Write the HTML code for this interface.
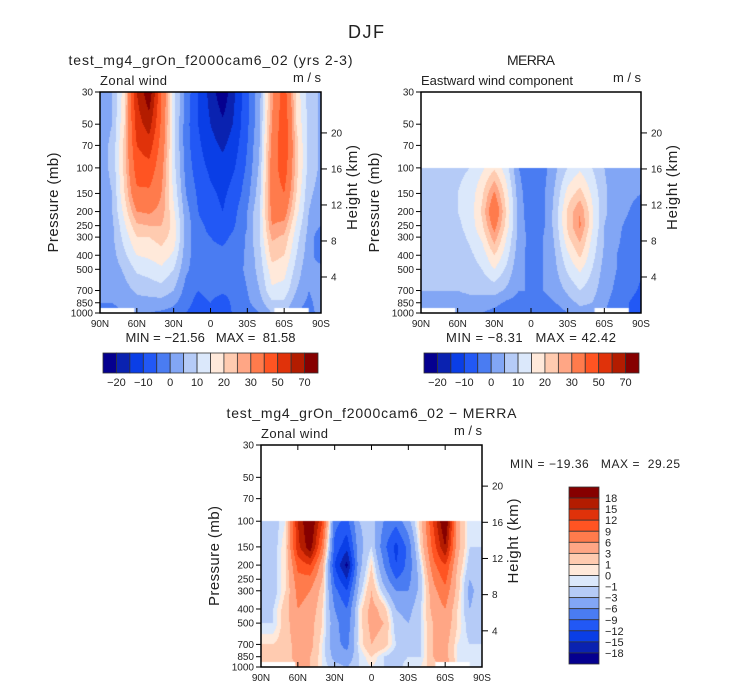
<!DOCTYPE html>
<html><head><meta charset="utf-8"><style>
body{margin:0;background:#fff;width:732px;height:690px;overflow:hidden;position:relative;font-family:"Liberation Sans",sans-serif}
canvas{position:absolute;left:0;top:0}
svg{position:absolute;left:0;top:0}
text{font-family:"Liberation Sans",sans-serif;fill:#222;white-space:pre}
</style></head><body>
<canvas id="cv" width="732" height="690"></canvas>
<svg id="sv" width="732" height="690"></svg>
<script>
const lats=[90,80,70,60,50,40,30,20,10,0,-10,-20,-30,-40,-50,-60,-70,-80,-90];
const plevs=[30,50,70,100,150,200,250,300,400,500,700,850,1000];
const levelsAbs=[-20,-15,-10,-5,0,5,10,15,20,25,30,40,50,60,70];
const labelsAbs=["-20","-10","0","10","20","30","50","70"];
const levelsDiff=[-18,-15,-12,-9,-6,-3,-1,0,1,3,6,9,12,15,18];
const palette=["#05008f","#0a22b0","#0a3ee6","#2258f5","#4a7cf2","#82a6f5","#b5cbf7","#dbe8fb","#ffe9da","#ffcbb0","#ffa685","#ff7b4c","#ff5422","#e0320a","#b31c00","#860000"];
const heightTicks=[4,8,12,16,20];
const latTicks=["90N","60N","30N","0","30S","60S","90S"];
const pTicks=[30,50,70,100,150,200,250,300,400,500,700,850,1000];
const modelData=[
[3,5,18,60,78,40,12,-2,-10,-17,-24,-15,-6,3,28,45,18,8,4],
[3,5,20,55,65,38,12,-3,-10,-15,-19,-14,-6,4,30,48,20,8,4],
[3,6,22,50,55,36,12,-3,-9,-13,-16,-12,-5,5,32,48,22,8,4],
[3,6,22,45,47,33,12,-2,-8,-11,-13,-10,-4,6,34,46,22,8,4],
[3,5,20,38,38,30,14,0,-6,-9,-11,-8,-2,8,34,40,20,6,3],
[2,5,17,30,31,28,16,2,-5,-8,-10,-6,0,10,32,34,17,5,2],
[2,4,14,24,25,25,18,3,-4,-6,-8,-5,0,10,30,28,14,4,0],
[2,4,12,20,20,22,18,3,-4,-5,-6,-4,1,10,26,24,12,3,-4],
[2,3,9,15,16,18,14,2,-3,-4,-4,-3,1,8,22,20,10,2,-3],
[2,2,6,11,12,14,10,1,-3,-4,-3,-2,1,7,18,17,8,1,2],
[0,1,3,6,7,8,5,-2,-5,-3,-4,-3,0,5,14,13,5,0,2],
[0,0,1,3,3,3,1,-3,-7,-5,-8,-3,-1,3,9,9,2,-1,2],
[0,-1,0,1,0,-1,-2,-5,-8,-6,-8,-4,-3,0,5,5,0,-2,2]];
const merraData=[
null,null,null,
[7,7,8,9,10,14,19,12,0,-4,-2,4,10,14,10,5,2,1,0],
[7,7,8,10,12,19,31,17,2,-4,-1,6,17,22,14,6,2,1,0],
[7,7,8,10,12,21,38,19,3,-4,-1,7,21,30,16,6,2,0,-2],
[7,7,7,9,12,19,33,18,3,-3,-1,7,21,31,16,5,1,-1,-3],
[6,6,7,8,11,16,28,15,3,-2,0,6,19,27,14,5,1,-2,-4],
[6,6,6,7,9,12,20,12,2,-2,0,5,14,21,12,4,0,-2,-4],
[6,6,6,6,8,10,15,9,1,-1,0,4,11,16,10,3,0,-2,-4],
[5,5,5,5,6,6,7,4,0,0,0,2,6,10,7,2,-1,-3,-6],
[4,4,3,3,3,3,2,-1,-2,-1,-2,0,3,6,5,1,-2,-5,-8],
[3,3,2,1,0,0,-2,-4,-5,-4,-5,-3,0,3,3,0,-3,-5,-10]];
const diffData=[
null,null,null,
[-2,-2,0,15,22,12,-8,-10,-3,-2,-6,-8,-4,2,12,22,4,-1,-1],
[-2,-2,1,14,20,8,-10,-14,-4,-1,-8,-13,-8,1,10,18,4,-1,-1],
[-2,-2,1,10,12,4,-12,-19,-4,1,-6,-12,-8,-1,8,12,3,-2,-1],
[-2,-2,1,8,8,3,-10,-15,-3,2,-4,-9,-7,-2,6,10,2,-3,-1],
[-2,-2,1,7,6,2,-8,-12,-2,3,-2,-6,-6,-2,5,8,2,-4,-1],
[-2,-1,2,6,5,1,-6,-9,0,4,2,-3,-4,-1,4,6,1,-3,-1],
[-1,-1,2,5,4,1,-5,-8,0,4,3,-2,-3,-1,3,5,1,-2,-1],
[1,1,2,4,4,0,-5,-7,0,3,2,-1,-2,-1,3,4,0,-1,-1],
[2,2,2,4,3,0,-4,-5,-1,1,-1,-2,-1,-1,3,4,0,-1,-1],
[2,2,2,3,3,0,-2,-3,-1,0,-1,-2,0,0,2,5,0,-1,-1]];

const L1={x:100,y:92,w:221,h:221}, L2={x:421,y:92,w:220,h:221}, L3={x:261,y:445,w:221,h:222};
const lnR=Math.log(1000/30);
function yOfP(P,p){return P.y+Math.log(p/30)/lnR*P.h;}
function xOfLat(P,lat){return P.x+(90-lat)/180*P.w;}
function hexRgb(h){return [parseInt(h.slice(1,3),16),parseInt(h.slice(3,5),16),parseInt(h.slice(5,7),16)];}
const pal=palette.map(hexRgb);
const ctx=document.getElementById('cv').getContext('2d');
const lnP=plevs.map(p=>Math.log(p));
function sample(data,lat,p){
  const c=(90-lat)/10; let c0=Math.min(Math.floor(c),lats.length-2); const fc=c-c0;
  const lp=Math.log(p); let r0=0; while(r0<plevs.length-2&&lnP[r0+1]<lp) r0++;
  const fr=(lp-lnP[r0])/(lnP[r0+1]-lnP[r0]);
  const A=data[r0],B=data[r0+1]; if(!A||!B) return null;
  const a=A[c0]*(1-fc)+A[c0+1]*fc, b=B[c0]*(1-fc)+B[c0+1]*fc;
  return a*(1-fr)+b*fr;
}
function fill(P,data,levels){
  const img=ctx.createImageData(P.w,P.h);
  for(let j=0;j<P.h;j++){const p=30*Math.exp((j+0.5)/P.h*lnR);
    for(let i=0;i<P.w;i++){const lat=90-(i+0.5)/P.w*180;const v=sample(data,lat,p);const k=(j*P.w+i)*4;
      if(v===null){img.data[k]=img.data[k+1]=img.data[k+2]=255;img.data[k+3]=255;continue;}
      let idx=0;while(idx<levels.length&&v>=levels[idx])idx++;
      const c=pal[idx];img.data[k]=c[0];img.data[k+1]=c[1];img.data[k+2]=c[2];img.data[k+3]=255;}}
  ctx.putImageData(img,P.x,P.y);
}
fill(L1,modelData,levelsAbs);fill(L2,merraData,levelsAbs);fill(L3,diffData,levelsDiff);
ctx.fillStyle='#fff';
[L1,L2,L3].forEach(P=>{ctx.fillRect(P.x,P.y+P.h-5,xOfLat(P,62)-P.x,5);ctx.fillRect(xOfLat(P,-52),P.y+P.h-5,xOfLat(P,-80)-xOfLat(P,-52),5);});

const sv=document.getElementById('sv');const NS='http://www.w3.org/2000/svg';
function el(tag,attrs,txt){const e=document.createElementNS(NS,tag);for(const k in attrs)e.setAttribute(k,attrs[k]);if(txt!==undefined)e.textContent=txt;sv.appendChild(e);return e;}
function txt(x,y,s,size,anchor,name,extra){const e=el('text',Object.assign({x:x,y:y,'font-size':size,'text-anchor':anchor||'start'},extra||{}),s);


return e;}
txt(366,38,'DJF',18,'middle','figure-title',{textLength:36});
function panel(P,id,title,sub,mm,showTopTicks,tl,sl){
  const f=el('rect',{x:P.x,y:P.y,width:P.w,height:P.h,fill:'none',stroke:'#000','stroke-width':1.5});
  
  
  txt(P.x+P.w/2,P.y-27,title,14,'middle',id+'-title',{textLength:tl});
  txt(P.x,P.y-7,sub,13,'start',id+'-variable-label',{textLength:sl});
  txt(P.x+P.w,P.y-10,'m/s',13,'end',id+'-units-label',{textLength:28});
  pTicks.forEach(p=>{const y=yOfP(P,p);el('line',{x1:P.x-5,x2:P.x,y1:y,y2:y,stroke:'#000'});
    txt(P.x-7,y+3.5,String(p),10,'end',id+'-pressure-tick');});
  latTicks.forEach((s,i)=>{const x=P.x+i*P.w/6;el('line',{x1:x,x2:x,y1:P.y+P.h,y2:P.y+P.h-5,stroke:'#000'});
    if(showTopTicks)el('line',{x1:x,x2:x,y1:P.y,y2:P.y+5,stroke:'#000'});
    txt(x,P.y+P.h+14,s,10,'middle',id+'-lat-tick');});
  heightTicks.forEach(h=>{const y=yOfP(P,1000*Math.exp(-h/7));el('line',{x1:P.x+P.w,x2:P.x+P.w+6,y1:y,y2:y,stroke:'#000'});
    txt(P.x+P.w+10,y+3.5,String(h),10,'start',id+'-height-tick');});
  txt(0,0,'Pressure (mb)',15,'middle',id+'-y-axis-title',{transform:`translate(${P.x-42},${P.y+P.h/2}) rotate(-90)`,textLength:100});
  txt(0,0,'Height (km)',15,'middle',id+'-right-axis-title',{transform:`translate(${P.x+P.w+36},${P.y+P.h/2-15}) rotate(-90)`,textLength:85});
  if(mm)txt(P.x+P.w/2,P.y+P.h+29,mm,13,'middle',id+'-min-max',{textLength:170});
}
panel(L1,'model','test_mg4_grOn_f2000cam6_02 (yrs 2-3)','Zonal wind','MIN = −21.56   MAX =  81.58',false,284,67);
panel(L2,'merra','MERRA','Eastward wind component','MIN = −8.31   MAX = 42.42',false,48,152);
panel(L3,'diff','test_mg4_grOn_f2000cam6_02 − MERRA','Zonal wind',null,true,290,67);
txt(595,468,'MIN = −19.36   MAX =  29.25',12,'middle','diff-min-max',{textLength:170});
function hbar(x0,y0,w,h,name){const bw=w/palette.length;
  palette.forEach((c,i)=>{const r=el('rect',{x:x0+i*bw,y:y0,width:bw,height:h,fill:c,stroke:'#333','stroke-width':0.8});
    
    });
  labelsAbs.forEach((s,k)=>{const i=1+2*k;txt(x0+i*bw,y0+h+13,s.replace('-','−'),11,'middle',name+'-label');});}
hbar(103,353,215,20,'model-colorbar');hbar(424,353,215,20,'merra-colorbar');
(function(){const x0=569,y0=487,w=30,h=177,bh=h/palette.length;
  palette.slice().reverse().forEach((c,i)=>{const r=el('rect',{x:x0,y:y0+i*bh,width:w,height:bh,fill:c,stroke:'#333','stroke-width':0.8});
    
    });
  levelsDiff.slice().reverse().forEach((v,i)=>{txt(x0+w+6,y0+(i+1)*bh+4,String(v).replace('-','−'),11,'start','diff-colorbar-label');});})();
</script>
</body></html>
